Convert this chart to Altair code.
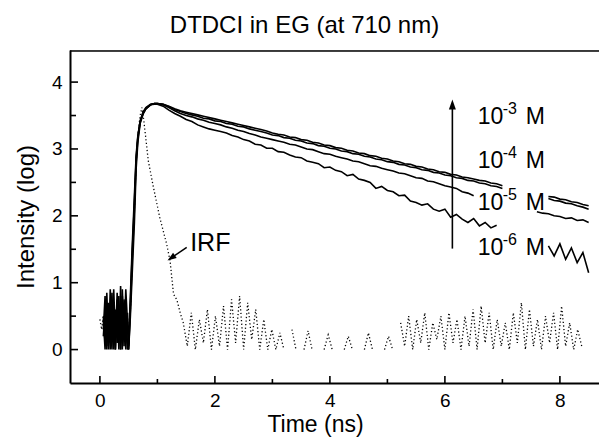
import altair as alt
import pandas as pd

FONT = "Liberation Sans"
W, H = 529, 333

# ---------------- data ----------------
noise_t = [0.06, 0.09, 0.12, 0.15, 0.18, 0.21, 0.24, 0.27, 0.30, 0.33, 0.36, 0.39, 0.42, 0.45, 0.48]
rise_t = [0.50, 0.53, 0.56, 0.60, 0.63, 0.66, 0.70, 0.75, 0.80, 0.88, 0.95, 1.00]
decay_t = [round(1.1 + 0.1 * i, 1) for i in range(75)]  # 1.1 ... 8.5 ns

noise_m3 = [0.45, 0.00, 0.85, 0.10, 0.60, 0.00, 0.90, 0.20, 0.75, 0.00, 0.95, 0.10, 0.70, 0.00, 0.55]
noise_m4 = [0.30, 0.80, 0.00, 0.70, 0.15, 0.85, 0.00, 0.60, 0.10, 0.80, 0.00, 0.90, 0.20, 0.65, 0.00]
noise_m5 = [0.20, 0.60, 0.05, 0.50, 0.00, 0.70, 0.30, 0.00, 0.85, 0.20, 0.60, 0.00, 0.75, 0.30, 0.10]
noise_m6 = [0.50, 0.10, 0.70, 0.00, 0.90, 0.25, 0.55, 0.00, 0.65, 0.35, 0.00, 0.80, 0.05, 0.90, 0.40]

rise_m3 = [0.00, 0.60, 1.30, 2.10, 2.80, 3.15, 3.40, 3.53, 3.60, 3.66, 3.68, 3.68]
rise_m4 = [0.10, 0.80, 1.50, 2.30, 2.90, 3.20, 3.42, 3.55, 3.62, 3.67, 3.68, 3.68]
rise_m5 = [0.00, 0.50, 1.10, 1.90, 2.70, 3.10, 3.38, 3.52, 3.60, 3.66, 3.68, 3.68]
rise_m6 = [0.05, 0.70, 1.40, 2.20, 2.85, 3.18, 3.41, 3.54, 3.61, 3.66, 3.67, 3.67]

N = None
decay_m3 = [3.67, 3.64, 3.60, 3.57, 3.55, 3.53, 3.51, 3.49, 3.47, 3.45,
            3.43, 3.41, 3.39, 3.37, 3.35, 3.33, 3.31, 3.29, 3.27, 3.24,
            3.22, 3.21, 3.18, 3.17, 3.14, 3.13, 3.10, 3.09, 3.06, 3.05,
            3.02, 3.01, 2.98, 2.97, 2.94, 2.93, 2.90, 2.89, 2.86, 2.85,
            2.82, 2.81, 2.78, 2.77, 2.74, 2.73, 2.70, 2.69, 2.66, 2.65,
            2.62, 2.61, 2.58, 2.57, 2.55, 2.53, 2.52, 2.49, 2.48, 2.45,
            N, N, N, N, N, N, N, 2.29, 2.28, 2.25,
            2.24, 2.21, 2.20, 2.17, 2.15]
decay_m4 = [3.67, 3.63, 3.59, 3.56, 3.53, 3.51, 3.49, 3.46, 3.45, 3.42,
            3.41, 3.38, 3.37, 3.34, 3.33, 3.30, 3.28, 3.26, 3.24, 3.21,
            3.20, 3.17, 3.16, 3.13, 3.12, 3.09, 3.08, 3.05, 3.04, 3.01,
            3.00, 2.97, 2.96, 2.93, 2.92, 2.89, 2.88, 2.85, 2.84, 2.81,
            2.80, 2.77, 2.76, 2.73, 2.72, 2.69, 2.68, 2.65, 2.64, 2.61,
            2.60, 2.57, 2.56, 2.53, 2.52, 2.49, 2.48, 2.45, 2.44, 2.41,
            N, N, N, N, N, N, N, 2.26, 2.23, 2.22,
            2.19, 2.18, 2.15, 2.13, 2.10]
decay_m5 = [3.66, 3.62, 3.57, 3.53, 3.50, 3.48, 3.45, 3.43, 3.40, 3.38,
            3.36, 3.33, 3.31, 3.28, 3.26, 3.23, 3.21, 3.18, 3.16, 3.14,
            3.12, 3.10, 3.07, 3.06, 3.03, 3.00, 2.99, 2.96, 2.93, 2.92,
            2.89, 2.87, 2.85, 2.82, 2.81, 2.78, 2.75, 2.74, 2.71, 2.69,
            2.67, 2.64, 2.63, 2.60, 2.57, 2.56, 2.52, 2.51, 2.48, 2.45,
            2.43, 2.41, 2.36, 2.34, 2.30, N, N, N, N, N,
            N, N, N, N, N, 2.06, 2.04, 2.03, 2.00, 1.99,
            1.96, 1.97, 1.93, 1.94, 1.90]
decay_m6 = [3.64, 3.58, 3.53, 3.49, 3.44, 3.41, 3.36, 3.33, 3.30, 3.28,
            3.26, 3.24, 3.20, 3.18, 3.14, 3.12, 3.07, 3.06, 3.01, 3.01,
            2.96, 2.95, 2.91, 2.88, 2.87, 2.82, 2.80, 2.78, 2.72, 2.73,
            2.68, 2.66, 2.60, 2.62, 2.55, 2.53, 2.50, 2.41, 2.44, 2.38,
            2.36, 2.30, 2.31, 2.22, 2.20, 2.16, 2.18, 2.10, 2.07, 2.10,
            1.98, 2.02, 1.95, 1.90, 1.96, 1.85, 1.90, 1.82, 1.86, N,
            N, N, N, N, N, N, N, 1.55, 1.40, 1.58,
            1.35, 1.52, 1.30, 1.45, 1.15]

irf_t = [0.00, 0.03, 0.06, 0.10, 0.14, 0.18, 0.22, 0.26, 0.30, 0.34, 0.38, 0.42, 0.46, 0.50,
         0.53, 0.56, 0.60, 0.63, 0.66, 0.70, 0.73, 0.76, 0.80, 0.84, 0.93, 1.04, 1.16, 1.22,
         1.25, 1.28, 1.34, 1.40]
irf_y = [0.45, 0.30, 0.50, 0.20, 0.60, 0.10, 0.70, 0.30, 0.55, 0.15, 0.65, 0.25, 0.40, 0.30,
         0.60, 1.30, 2.10, 2.80, 3.20, 3.50, 3.62, 3.45, 3.15, 2.83, 2.43, 1.98, 1.58, 1.33,
         1.08, 0.83, 0.74, 0.54]
irf_tail_t = [round(1.45 + 0.07 * i, 2) for i in range(100)]
irf_tail_y = [0.40, 0.05, 0.55, 0.00, 0.45, 0.10, 0.60, 0.00, 0.50, 0.05,
              0.65, 0.00, 0.75, 0.10, 0.80, 0.00, 0.70, 0.15, 0.60, 0.00,
              0.45, 0.00, 0.30, 0.00, 0.25, 0.00, N, 0.30, 0.00, N,
              0.00, 0.28, 0.00, N, N, 0.00, 0.22, 0.00, N, N,
              0.00, 0.20, 0.00, N, N, 0.00, 0.25, 0.00, N, N,
              0.00, 0.20, 0.00, N, 0.40, 0.05, 0.50, 0.00, 0.45, 0.10,
              0.55, 0.00, 0.40, 0.15, 0.50, 0.00, 0.55, 0.10, 0.45, 0.00,
              0.50, 0.05, 0.60, 0.00, 0.65, 0.10, 0.55, 0.00, 0.45, 0.05,
              0.40, 0.00, 0.55, 0.10, 0.70, 0.00, 0.60, 0.05, 0.45, 0.00,
              0.50, 0.10, 0.55, 0.00, 0.65, 0.05, 0.40, 0.00, 0.30, 0.05]

conc_sup = ["-3", "-4", "-5", "-6"]
conc_t = [6.57, 6.57, 6.57, 6.57]
conc_y = [3.38, 2.72, 2.08, 1.41]

arrow_t = [6.13]
arrow_y0 = [1.51]
arrow_y1 = [3.665]

irf_label = ["IRF"]
irf_label_t = [1.57]
irf_label_y = [1.47]
irf_arrow = {"t": [1.51], "y": [1.53], "t2": [1.24], "y2": [1.37]}

x_major = [0, 2, 4, 6, 8]
x_minor = [1, 3, 5, 7]
y_major = [0, 1, 2, 3, 4]
y_minor = [0.5, 1.5, 2.5, 3.5]


# ---------------- tables ----------------
def rows(name, ts, ys):
    out, seg = [], 0
    for t, y in zip(ts, ys):
        if y is None:
            seg += 1
            continue
        out.append({"t": t, "y": y, "seg": f"{name}-{seg}"})
    return out


curve_rows = []
for nm, nz, rs, dc in [("m3", noise_m3, rise_m3, decay_m3), ("m4", noise_m4, rise_m4, decay_m4),
                       ("m5", noise_m5, rise_m5, decay_m5), ("m6", noise_m6, rise_m6, decay_m6)]:
    curve_rows += rows(nm, noise_t + rise_t + decay_t, nz + rs + dc)
curves_df = pd.DataFrame(curve_rows)
irf_df = pd.DataFrame(rows("irf", irf_t + irf_tail_t, irf_y + irf_tail_y))

xs = alt.Scale(domain=[-0.52, 8.68], nice=False, zero=False)
ys = alt.Scale(domain=[-0.5, 4.48], nice=False, zero=False)

x_axis = alt.Axis(title="Time (ns)", values=x_major, ticks=False, tickSize=0, grid=False,
                  domainColor="black", domainWidth=2, labelFontSize=19, labelPadding=8,
                  titleFontSize=23, titleFontWeight="normal", titlePadding=3, titleX=245,
                  labelColor="black", titleColor="black", labelFont=FONT, titleFont=FONT, format="d")
y_axis = alt.Axis(title="Intensity (log)", values=y_major, ticks=False, tickSize=0, grid=False,
                  domainColor="black", domainWidth=2, labelFontSize=19, labelPadding=8,
                  titleFontSize=24, titleFontWeight="normal", titlePadding=13,
                  labelColor="black", titleColor="black", labelFont=FONT, titleFont=FONT, format="d")

curves = alt.Chart(curves_df).mark_line(color="black", strokeWidth=1.6).encode(
    x=alt.X("t:Q", scale=xs, axis=x_axis),
    y=alt.Y("y:Q", scale=ys, axis=y_axis),
    detail="seg:N",
)

irf = alt.Chart(irf_df).mark_line(color="black", strokeWidth=1.3, strokeDash=[1.2, 2.4]).encode(
    x=alt.X("t:Q", scale=xs), y=alt.Y("y:Q", scale=ys), detail="seg:N"
)


# inward ticks
def xticks(vals, ln):
    return alt.Chart(pd.DataFrame({"t": vals})).mark_rule(color="black", strokeWidth=1.6).encode(
        x=alt.X("t:Q", scale=xs), y=alt.value(H), y2=alt.value(H - ln))


def yticks(vals, ln):
    return alt.Chart(pd.DataFrame({"v": vals})).mark_rule(color="black", strokeWidth=1.6).encode(
        y=alt.Y("v:Q", scale=ys), x=alt.value(0), x2=alt.value(ln))


top_line = alt.Chart(pd.DataFrame({"a": [0]})).mark_rule(color="black", strokeWidth=1.5).encode(
    x=alt.value(0), x2=alt.value(W), y=alt.value(1))

conc_df = pd.DataFrame({"t": conc_t, "y": conc_y, "sup": conc_sup})
ten = alt.Chart(conc_df).mark_text(align="left", baseline="alphabetic", fontSize=23, font=FONT,
                                   color="black").encode(
    x=alt.X("t:Q", scale=xs), y=alt.Y("y:Q", scale=ys), text=alt.value("10"))
sup = alt.Chart(conc_df).mark_text(align="left", baseline="alphabetic", fontSize=16, font=FONT,
                                   color="black", dx=25, dy=-10).encode(
    x=alt.X("t:Q", scale=xs), y=alt.Y("y:Q", scale=ys), text="sup:N")
em = alt.Chart(conc_df).mark_text(align="left", baseline="alphabetic", fontSize=23, font=FONT,
                                  color="black", dx=48).encode(
    x=alt.X("t:Q", scale=xs), y=alt.Y("y:Q", scale=ys), text=alt.value("M"))

arrow_df = pd.DataFrame({"t": arrow_t, "y0": arrow_y0, "y1": arrow_y1})
arrow_line = alt.Chart(arrow_df).mark_rule(color="black", strokeWidth=1.6).encode(
    x=alt.X("t:Q", scale=xs), y=alt.Y("y0:Q", scale=ys), y2="y1:Q")
arrow_head = alt.Chart(arrow_df).mark_point(shape="M0,-1L0.7,1L-0.7,1Z", size=100, filled=True,
                                            color="black", opacity=1).encode(
    x=alt.X("t:Q", scale=xs), y=alt.Y("y1:Q", scale=ys))

irf_lab_df = pd.DataFrame({"t": irf_label_t, "y": irf_label_y, "s": irf_label})
irf_text = alt.Chart(irf_lab_df).mark_text(align="left", baseline="alphabetic", fontSize=25, font=FONT,
                                           color="black").encode(
    x=alt.X("t:Q", scale=xs), y=alt.Y("y:Q", scale=ys), text="s:N")
irf_arr_df = pd.DataFrame(irf_arrow)
irf_arr_line = alt.Chart(irf_arr_df).mark_rule(color="black", strokeWidth=1.5).encode(
    x=alt.X("t:Q", scale=xs), x2="t2:Q", y=alt.Y("y:Q", scale=ys), y2="y2:Q")
irf_arr_head = alt.Chart(irf_arr_df).mark_point(shape="M0,-1L0.7,1L-0.7,1Z", size=81, filled=True,
                                                color="black", opacity=1, angle=235).encode(
    x=alt.X("t2:Q", scale=xs), y=alt.Y("y2:Q", scale=ys))

chart = alt.layer(
    curves, irf, xticks(x_major, 7), xticks(x_minor, 4), yticks(y_major, 8), yticks(y_minor, 6),
    top_line, ten, sup, em, arrow_line, arrow_head, irf_text, irf_arr_line, irf_arr_head,
).properties(
    width=W, height=H,
    title=alt.TitleParams("DTDCI in EG (at 710 nm)", fontSize=24, font=FONT, fontWeight="normal",
                          color="black", anchor="middle", dx=-30, offset=12),
    autosize=alt.AutoSizeParams(type="none"),
    padding={"left": 62, "top": 42, "right": 0, "bottom": 55},
).configure_view(stroke=None).configure(background="white")

chart.save("out.html", embed_options={"renderer": "svg", "actions": False})
